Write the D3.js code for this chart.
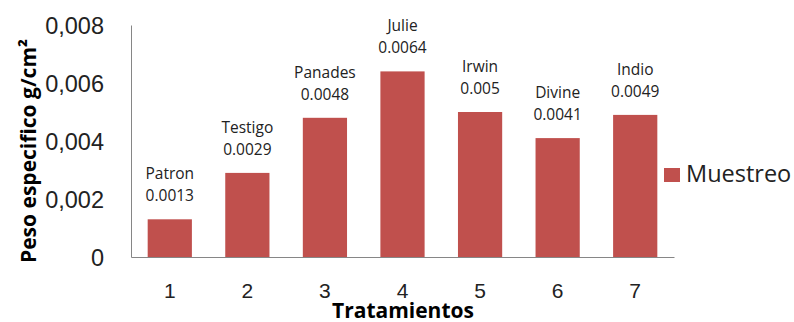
<!DOCTYPE html>
<html>
<head>
<meta charset="utf-8">
<script src="https://cdn.jsdelivr.net/npm/d3@7"></script>
<style>
  html, body { margin: 0; padding: 0; background: #fff; }
  svg { display: block; font-family: "Open Sans", Lato, sans-serif; }
</style>
</head>
<body>
<svg id="chart" width="794" height="322"></svg>
<script>
// Peso específico por tratamiento
const categories = ["1", "2", "3", "4", "5", "6", "7"];
const names = ["Patron", "Testigo", "Panades", "Julie", "Irwin", "Divine", "Indio"];
const values = [0.0013, 0.0029, 0.0048, 0.0064, 0.005, 0.0041, 0.0049];
const valueLabels = ["0.0013", "0.0029", "0.0048", "0.0064", "0.005", "0.0041", "0.0049"];
const yTicks = [0, 0.002, 0.004, 0.006, 0.008];
const seriesName = "Muestreo";

const color = "#C0504D";
const svg = d3.select("#chart");
const plotLeft = 131, plotRight = 674, plotTop = 25, plotBottom = 257;

const x = d3.scaleBand().domain(categories).range([plotLeft, plotRight]).paddingInner(0.43).paddingOuter(0.215);
const y = d3.scaleLinear().domain([0, 0.008]).range([plotBottom, plotTop]);

// Y axis
const yAxis = svg.append("g")
  .attr("transform", `translate(${plotLeft},0)`)
  .call(d3.axisLeft(y).tickValues(yTicks).tickSize(0).tickPadding(27)
    .tickFormat(d => d === 0 ? "0" : d3.format(".3f")(d).replace(".", ",")));
yAxis.select(".domain").attr("stroke", "#868686");
yAxis.selectAll("text").attr("font-size", 23.5).attr("fill", "#222").attr("dy", "0.35em");

// X axis
const xAxis = svg.append("g")
  .attr("transform", `translate(0,${plotBottom})`)
  .call(d3.axisBottom(x).tickSize(0).tickPadding(26));
xAxis.select(".domain").attr("stroke", "#868686");
xAxis.selectAll("text").attr("font-size", 21).attr("fill", "#222").attr("dy", "0.71em");

// Bars
svg.append("g").selectAll("rect")
  .data(values)
  .join("rect")
  .attr("x", (d, i) => x(categories[i]))
  .attr("width", x.bandwidth())
  .attr("y", d => y(d))
  .attr("height", d => plotBottom - y(d))
  .attr("fill", color);

// Data labels: name over value
const lbl = svg.append("g").attr("font-size", 15.5).attr("fill", "#222").attr("text-anchor", "middle");
values.forEach((v, i) => {
  const cx = x(categories[i]) + x.bandwidth() / 2;
  lbl.append("text").attr("x", cx).attr("y", y(v) - 40).text(names[i]);
  lbl.append("text").attr("x", cx).attr("y", y(v) - 18).text(valueLabels[i]);
});

// Axis titles
svg.append("text")
  .attr("x", 403).attr("y", 318)
  .attr("text-anchor", "middle")
  .attr("font-size", 21).attr("font-weight", "bold").attr("fill", "#000")
  .text("Tratamientos");

svg.append("text")
  .attr("transform", "translate(36,151) rotate(-90)")
  .attr("text-anchor", "middle")
  .attr("font-size", 21).attr("font-weight", "bold").attr("fill", "#000")
  .text("Peso especifico g/cm²");

// Legend
const leg = svg.append("g").attr("transform", "translate(664,168)");
leg.append("rect").attr("width", 16).attr("height", 14).attr("fill", color);
leg.append("text").attr("x", 22).attr("y", 6).attr("dy", "0.35em")
  .attr("font-size", 23.5).attr("fill", "#222").text(seriesName);
</script>
</body>
</html>
